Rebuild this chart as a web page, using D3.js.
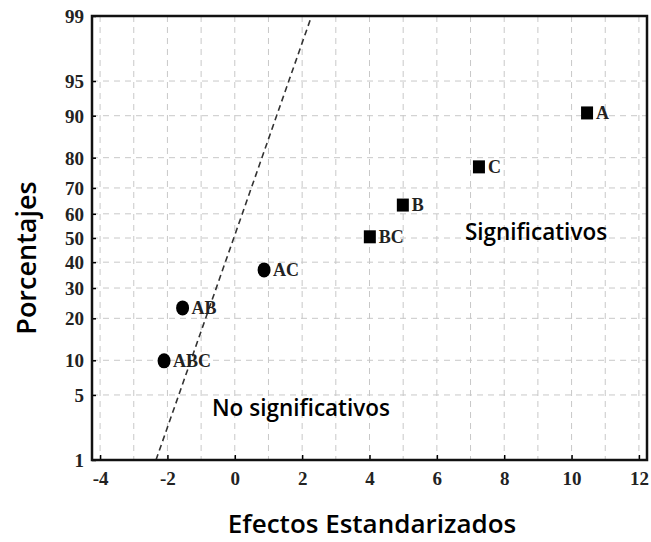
<!DOCTYPE html>
<html>
<head>
<meta charset="utf-8">
<script src="https://cdn.jsdelivr.net/npm/d3@7"></script>
<style>
  html, body { margin: 0; padding: 0; background: #fff; }
  svg { display: block; }
</style>
</head>
<body>
<div id="chart"></div>
<script>
// datos
const efectos = ['ABC', 'AB', 'AC', 'BC', 'B', 'C', 'A'];
const valoresEstandarizados = [-2.10, -1.55, 0.87, 4.01, 4.99, 7.25, 10.46];
const porcentajes = [9.9, 23.2, 36.9, 50.5, 63.5, 77.2, 90.5];
const significativo = [false, false, false, true, true, true, true];

const xTicks = [-4, -2, 0, 2, 4, 6, 8, 10, 12];
const yTicks = [1, 5, 10, 20, 30, 40, 50, 60, 70, 80, 90, 95, 99];
const lineaReferencia = [[-2.34, 1], [2.28, 99]];

const width = 651, height = 542;
const margin = { left: 92, right: 4, top: 16, bottom: 82 };

// probit (Acklam) para el eje de probabilidad normal
function probit(p) {
    const a = [-3.969683028665376e+01, 2.209460984245205e+02, -2.759285104469687e+02,
        1.383577518672690e+02, -3.066479806614716e+01, 2.506628277459239e+00];
    const b = [-5.447609879822406e+01, 1.615858368580409e+02, -1.556989798598866e+02,
        6.680131188771972e+01, -1.328068155288572e+01];
    const c = [-7.784894002430293e-03, -3.223964580411365e-01, -2.400758277161838e+00,
        -2.549732539343734e+00, 4.374664141464968e+00, 2.938163982698783e+00];
    const d = [7.784695709041462e-03, 3.224671290700398e-01, 2.445134137142996e+00,
        3.754408661907416e+00];
    const pl = 0.02425;
    let q, r;
    if (p < pl) {
        q = Math.sqrt(-2 * Math.log(p));
        return (((((c[0] * q + c[1]) * q + c[2]) * q + c[3]) * q + c[4]) * q + c[5]) /
            ((((d[0] * q + d[1]) * q + d[2]) * q + d[3]) * q + 1);
    }
    if (p > 1 - pl) {
        q = Math.sqrt(-2 * Math.log(1 - p));
        return -(((((c[0] * q + c[1]) * q + c[2]) * q + c[3]) * q + c[4]) * q + c[5]) /
            ((((d[0] * q + d[1]) * q + d[2]) * q + d[3]) * q + 1);
    }
    q = p - 0.5;
    r = q * q;
    return (((((a[0] * r + a[1]) * r + a[2]) * r + a[3]) * r + a[4]) * r + a[5]) * q /
        (((((b[0] * r + b[1]) * r + b[2]) * r + b[3]) * r + b[4]) * r + 1);
}

const svg = d3.select('#chart')
    .append('svg')
    .attr('width', width)
    .attr('height', height);

const x = d3.scaleLinear()
    .domain([-4.24, 12.24])
    .range([margin.left, width - margin.right]);

const z = d3.scaleLinear()
    .domain([probit(0.01), probit(0.99)])
    .range([height - margin.bottom, margin.top]);
const y = p => z(probit(p / 100));

const x0 = margin.left, x1 = width - margin.right;
const y0 = margin.top, y1 = height - margin.bottom;

// rejilla
const grid = svg.append('g')
    .attr('stroke', '#c8c8c8')
    .attr('stroke-width', 1)
    .attr('stroke-dasharray', '6,5');

grid.selectAll('.vgrid')
    .data(d3.range(-4, 13))
    .enter().append('line')
    .attr('x1', d => x(d)).attr('x2', d => x(d))
    .attr('y1', y0).attr('y2', y1);

grid.selectAll('.hgrid')
    .data(yTicks.slice(1, -1))
    .enter().append('line')
    .attr('x1', x0).attr('x2', x1)
    .attr('y1', d => y(d)).attr('y2', d => y(d));

// linea de referencia
svg.append('line')
    .attr('x1', x(lineaReferencia[0][0]))
    .attr('y1', y(lineaReferencia[0][1]))
    .attr('x2', x(lineaReferencia[1][0]))
    .attr('y2', y(lineaReferencia[1][1]))
    .attr('stroke', '#333')
    .attr('stroke-width', 1.6)
    .attr('stroke-dasharray', '6,4');

// ejes
const xAxis = svg.append('g')
    .attr('transform', `translate(0,${y1})`)
    .call(d3.axisBottom(x).tickValues(xTicks).tickSize(-5).tickPadding(12).tickFormat(d => String(d)));

const yAxis = svg.append('g')
    .attr('transform', `translate(${x0},0)`)
    .call(d3.axisLeft(z).tickValues(yTicks.map(p => probit(p / 100))).tickSize(-4).tickPadding(8)
        .tickFormat((d, i) => yTicks[i]));

[xAxis, yAxis].forEach(ax => {
    ax.select('.domain').remove();
    ax.selectAll('.tick line').attr('stroke', '#000').attr('stroke-width', 1.5);
    ax.selectAll('.tick text')
        .attr('fill', '#222')
        .style('font-family', '"Liberation Serif", "Times New Roman", serif')
        .style('font-weight', 'bold')
        .style('font-size', '19px');
});
yAxis.selectAll('.tick text').attr('dy', '0.35em');

// marco
svg.append('rect')
    .attr('x', x0).attr('y', y0)
    .attr('width', x1 - x0).attr('height', y1 - y0)
    .attr('fill', 'none')
    .attr('stroke', '#111')
    .attr('stroke-width', 2.5);

// puntos
const puntos = efectos.map((e, i) => ({
    nombre: e,
    valor: valoresEstandarizados[i],
    pct: porcentajes[i],
    sig: significativo[i]
}));

const marcas = svg.append('g');
marcas.selectAll('ellipse')
    .data(puntos.filter(d => !d.sig))
    .enter().append('ellipse')
    .attr('cx', d => x(d.valor))
    .attr('cy', d => y(d.pct))
    .attr('rx', 6.5)
    .attr('ry', 7.5)
    .attr('fill', '#000');

marcas.selectAll('rect')
    .data(puntos.filter(d => d.sig))
    .enter().append('rect')
    .attr('x', d => x(d.valor) - 6)
    .attr('y', d => y(d.pct) - 6.5)
    .attr('width', 12)
    .attr('height', 13)
    .attr('fill', '#000');

marcas.selectAll('text')
    .data(puntos)
    .enter().append('text')
    .attr('x', d => x(d.valor) + 9)
    .attr('y', d => y(d.pct) + 6)
    .text(d => d.nombre)
    .attr('fill', '#222')
    .style('font-family', '"Liberation Serif", "Times New Roman", serif')
    .style('font-weight', 'bold')
    .style('font-size', '18px');

// anotaciones
const sans = '"Open Sans", "Noto Sans", sans-serif';
svg.append('text')
    .attr('x', 536).attr('y', 240)
    .attr('text-anchor', 'middle')
    .style('font-family', sans)
    .style('font-weight', 600)
    .style('font-size', '22.5px')
    .text('Significativos');

svg.append('text')
    .attr('x', 301).attr('y', 416)
    .attr('text-anchor', 'middle')
    .style('font-family', sans)
    .style('font-weight', 600)
    .style('font-size', '22.5px')
    .text('No significativos');

// titulos de ejes
svg.append('text')
    .attr('x', 372).attr('y', 533)
    .attr('text-anchor', 'middle')
    .style('font-family', sans)
    .style('font-weight', 600)
    .style('font-size', '26px')
    .text('Efectos Estandarizados');

svg.append('text')
    .attr('transform', 'translate(36,258) rotate(-90)')
    .attr('text-anchor', 'middle')
    .style('font-family', sans)
    .style('font-weight', 600)
    .style('font-size', '27px')
    .text('Porcentajes');
</script>
</body>
</html>
